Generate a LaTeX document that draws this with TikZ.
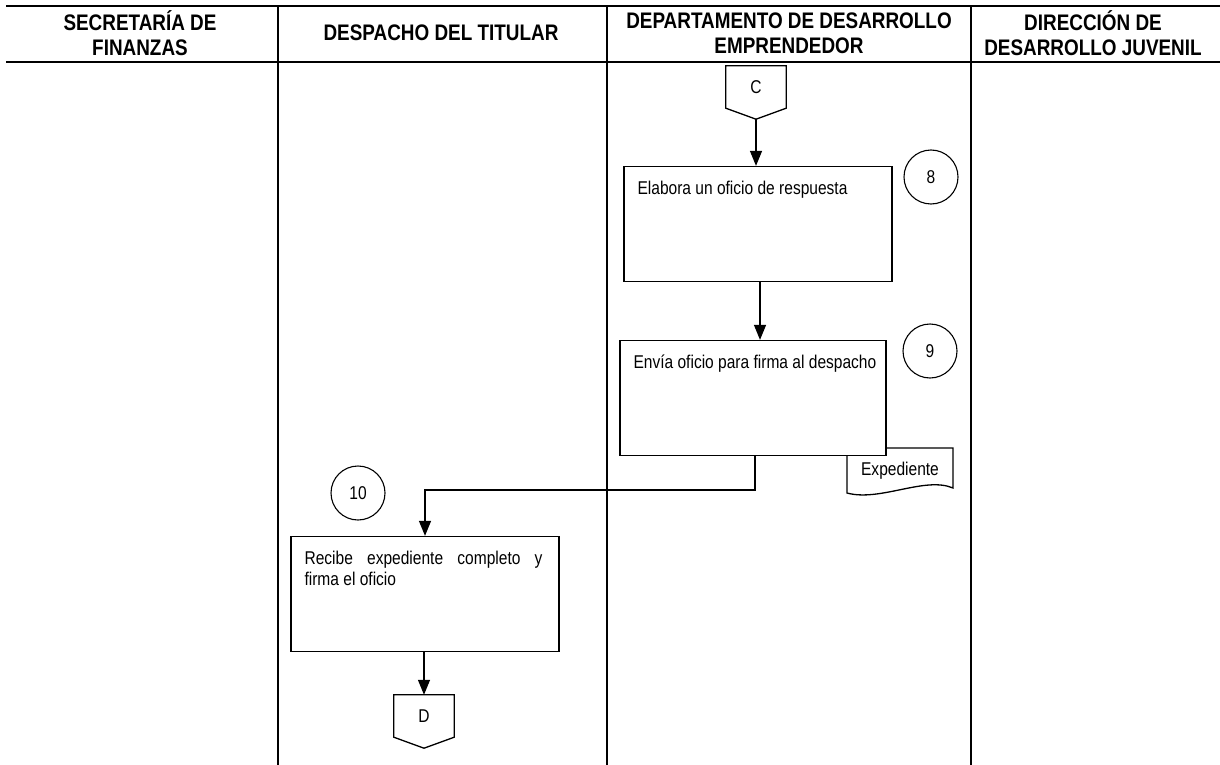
\documentclass[tikz,border=0pt]{standalone}
\usepackage{fontspec}
\setmainfont{Liberation Sans}[FakeStretch=0.84]
\usetikzlibrary{arrows.meta}
\tikzset{
  lane/.style={line width=1.2pt},
  rule/.style={line width=2.2pt},
  head/.style={font=\fontsize{22.5}{25}\selectfont\bfseries, align=center},
  box/.style={draw, line width=1.3pt, fill=white, minimum width=268pt, minimum height=115pt, inner sep=0pt},
  boxtext/.style={font=\fontsize{18.5}{21}\selectfont, anchor=north west, inner sep=0pt},
  num/.style={draw, circle, line width=1.1pt, minimum size=54pt, inner sep=0pt, font=\fontsize{18.5}{21}\selectfont},
  offbox/.style={minimum width=60pt, minimum height=42pt, inner sep=0pt, font=\fontsize{18.5}{21}\selectfont},
  flow/.style={line width=1.3pt},
  arr/.style={line width=1.3pt, -{Triangle[length=15pt, width=12pt]}}
}
\newcommand\offpage[3]{%
  \node[offbox] (#1) at (#2) {#3};
  \draw[flow] (#1.north west) -- (#1.north east) -- (#1.south east)
    -- ([yshift=-11pt]#1.south) -- (#1.south west) -- cycle;
  \coordinate (#1-tip) at ([yshift=-11pt]#1.south);}
\begin{document}
\begin{tikzpicture}[x=1pt, y=-1pt]
  \useasboundingbox (0,0) rectangle (1220,765);
  \draw[rule] (6,6) -- (1220,6);
  \draw[rule] (6,62) -- (1220,62);
  \foreach \lx in {278,607,971} \draw[lane] (\lx,6) -- (\lx,765);
  \node[head] (h1) at (140,33) {SECRETARÍA DE\\FINANZAS};
  \node[head] (h2) at (441,33) {DESPACHO DEL TITULAR};
  \node[head] (h3) at (789,33) {DEPARTAMENTO DE DESARROLLO\\EMPRENDEDOR};
  \node[head] (h4) at (1093,33) {DIRECCIÓN DE\\DESARROLLO JUVENIL};

  \offpage{C}{756,87}{C}
  \node[box] (b8) at (758,224) {};
  \node[boxtext] (t8) at ([shift={(14pt,-15pt)}]b8.north west) {Elabora un oficio de respuesta};
  \node[num] (n8) at (931,177) {8};
  \draw[arr] (C-tip) -- (b8.north -| C-tip);

  \draw[flow] (847,448) -- (953,448) -- (953,488)
    .. controls (925,476) and (880,502) .. (847,493) -- cycle;
  \node (doc) at (900,471) {\fontsize{18.5}{21}\selectfont Expediente};
  \node[box, minimum width=266pt] (b9) at (753,398) {};
  \node[boxtext] (t9) at ([shift={(14pt,-15pt)}]b9.north west) {Envía oficio para firma al despacho};
  \node[num] (n9) at (930,351) {9};
  \draw[arr] (b8.south -| 760,0) -- (b9.north -| 760,0);

  \node[num] (n10) at (358,493) {10};
  \node[box] (b10) at (425,594) {};
  \node[boxtext, text width=238pt, align=justify] (t10) at ([shift={(14pt,-15pt)}]b10.north west) {Recibe expediente completo y\linebreak firma el oficio};
  \coordinate (k1) at (755,490);
  \draw[arr] (b9.south -| k1) -- (k1) -| (b10.north);

  \offpage{D}{424,716}{D}
  \draw[arr] (b10.south -| D) -- (D.north);
\end{tikzpicture}
\end{document}
